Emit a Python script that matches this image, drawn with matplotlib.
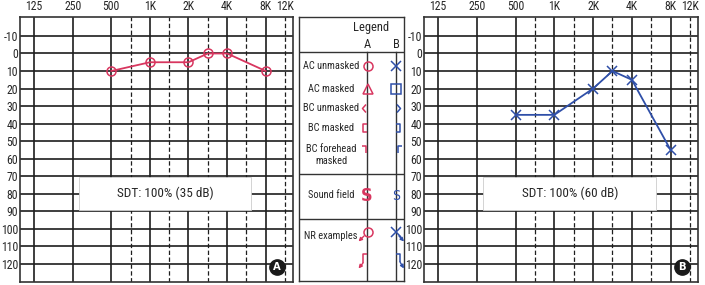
import numpy as np
import matplotlib
matplotlib.use("Agg")
import matplotlib.pyplot as plt
from matplotlib.patches import Rectangle
from matplotlib import font_manager as fm

# ---------------- data ----------------
tick_freqs = [125, 250, 500, 1000, 2000, 4000, 8000, 12000]
tick_labels = ['125', '250', '500', '1K', '2K', '4K', '8K', '12K']
db_ticks = list(range(-10, 121, 10))

freqs_A = [500, 1000, 2000, 3000, 4000, 8000]
thr_A = [10, 5, 5, 0, 0, 10]
freqs_B = [500, 1000, 2000, 3000, 4000, 8000]
thr_B = [35, 35, 20, 10, 15, 55]

sdt_A = "SDT: 100% (35 dB)"
sdt_B = "SDT: 100% (60 dB)"

legend_rows = ["AC unmasked", "AC masked", "BC unmasked", "BC masked",
               "BC forehead\nmasked", "Sound field", "NR examples"]

RED = '#d8365f'
BLUE = '#2f4fa8'
GRID = '#1e1e1e'
TXT = '#262626'

names = {f.name for f in fm.fontManager.ttflist}
fam = [n for n in ['Roboto Condensed', 'Open Sans Condensed'] if n in names] + ['DejaVu Sans']
plt.rcParams['font.family'] = fam
plt.rcParams['font.stretch'] = 'condensed'


def fpos(f):
    return np.round(2 * np.log2(np.asarray(f) / 125.0)) / 2


fig = plt.figure(figsize=(7.05, 2.85), dpi=100)


def audiogram(rect, freqs, thr, color, marker, ms, sdt, badge):
    ax = fig.add_axes(rect)
    ax.set_xlim(-0.363, 6.707)
    ax.set_ylim(130.3, -20.8)
    for d in db_ticks:
        ax.axhline(d, color=GRID, lw=1.2, zorder=1)
    for p in fpos(tick_freqs[:-1]):
        ax.axvline(p, color=GRID, lw=1.2, zorder=1)
    for p in np.arange(2.5, 7.0, 1.0):
        ax.axvline(p, color=GRID, lw=0.9, ls=(0, (3.5, 2)), zorder=1)
    ax.set_xticks(fpos(tick_freqs))
    ax.set_xticklabels(tick_labels)
    ax.xaxis.tick_top()
    ax.set_yticks(db_ticks)
    ax.set_yticklabels([str(d) for d in db_ticks])
    ax.tick_params(axis='x', length=0, pad=3, labelsize=8.5, colors=TXT)
    ax.tick_params(axis='y', length=0, pad=1.5, labelsize=8.5, colors=TXT)
    for s in ax.spines.values():
        s.set_color('#333333')
        s.set_linewidth(1.2)
    ax.add_patch(Rectangle((1.17, 70.7), 4.46, 18.6, facecolor='white',
                           edgecolor='#cccccc', lw=0.6, zorder=3))
    ax.text(3.4, 80, sdt, ha='center', va='center', fontsize=9.5,
            color=TXT, zorder=4)
    ax.plot(fpos(freqs), thr, color=color, lw=1.3, marker=marker, ms=ms,
            mfc='none', mec=color, mew=1.1, zorder=5)
    ax.plot([6.3], [121.7], 'o', ms=11, color='#1a1a1a', zorder=6)
    ax.text(6.3, 122, badge, ha='center', va='center', color='white',
            fontsize=8, fontweight='bold', zorder=7, family=['DejaVu Sans'])
    return ax


audiogram([20 / 705, 3 / 285, 273 / 705, 265 / 285], freqs_A, thr_A, RED, 'o', 6.5, sdt_A, 'A')
audiogram([424 / 705, 3 / 285, 274 / 705, 265 / 285], freqs_B, thr_B, BLUE, 'x', 7, sdt_B, 'B')

# ---------------- legend panel (pixel coordinates) ----------------
lg = fig.add_axes([299 / 705, 4 / 285, 105 / 705, 264 / 285])
lg.set_xlim(299, 404)
lg.set_ylim(281, 17)
lg.set_xticks([])
lg.set_yticks([])
for s in lg.spines.values():
    s.set_color('#333333')
    s.set_linewidth(1.0)

xa, xb = 367, 396
lc = '#333333'
lg.plot([299, 404], [52, 52], color=lc, lw=1.0)
lg.plot([299, 404], [174, 174], color=lc, lw=1.0)
lg.plot([299, 404], [219, 219], color=lc, lw=1.0)
lg.plot([xa, xa], [52, 281], color=lc, lw=1.0)
lg.plot([xb, xb], [52, 281], color=lc, lw=1.0)

lg.text(371, 27, "Legend", ha='center', va='center', fontsize=9, color=TXT)
lg.text(xa, 45, "A", ha='center', va='center', fontsize=9, color=TXT)
lg.text(xb, 45, "B", ha='center', va='center', fontsize=9, color=TXT)

row_y = [66, 89, 108, 128, 155, 195, 236]
for lab, y in zip(legend_rows, row_y):
    lg.text(331, y, lab, ha='center', va='center', fontsize=7.5, color=TXT,
            linespacing=1.35)

kw = dict(lw=1.1, solid_capstyle='butt')
lg.plot([368], [66], 'o', ms=6.5, mfc='none', mec=RED, mew=1.1)
lg.plot([396], [66], 'x', ms=7, mec=BLUE, mew=1.1)
lg.plot([367.5], [89], '^', ms=7, mfc='none', mec=RED, mew=1.1)
lg.plot([396], [89], 's', ms=7, mfc='none', mec=BLUE, mew=1.1)
lg.plot([366, 362.5, 366], [104.5, 108.5, 112.5], color=RED, **kw)
lg.plot([397, 400.5, 397], [104.5, 108.5, 112.5], color=BLUE, **kw)
lg.plot([367, 362.5, 362.5, 367], [124, 124, 132, 132], color=RED, **kw)
lg.plot([396, 400, 400, 396], [124, 124, 132, 132], color=BLUE, **kw)
lg.plot([361.5, 366, 366], [146, 146, 153], color=RED, **kw)
lg.plot([397.5, 397.5, 402], [153, 146, 146], color=BLUE, **kw)
lg.text(xa, 196, "S", ha='center', va='center', fontsize=13, color=RED,
        fontweight='bold', family=['DejaVu Sans'])
lg.text(xb, 196, "S", ha='center', va='center', fontsize=10, color=BLUE,
        family=['DejaVu Sans'])
arw = dict(arrowstyle='-|>', lw=1.0, mutation_scale=5, shrinkA=0, shrinkB=0)
lg.plot([367.5], [232], 'o', ms=6.5, mfc='none', mec=RED, mew=1.1)
lg.annotate('', xy=(358.5, 241.5), xytext=(364, 236),
            arrowprops=dict(color=RED, **arw))
lg.plot([396], [232], 'x', ms=7, mec=BLUE, mew=1.1)
lg.annotate('', xy=(404, 241.5), xytext=(399, 236),
            arrowprops=dict(color=BLUE, **arw))
lg.plot([367, 363, 363], [254, 254, 263], color=RED, **kw)
lg.annotate('', xy=(358.5, 268.5), xytext=(363, 263),
            arrowprops=dict(color=RED, **arw))
lg.plot([396, 400, 400], [254, 254, 262], color=BLUE, **kw)
lg.annotate('', xy=(404, 268.5), xytext=(400, 262),
            arrowprops=dict(color=BLUE, **arw))

fig.savefig('out.png', dpi=100)
